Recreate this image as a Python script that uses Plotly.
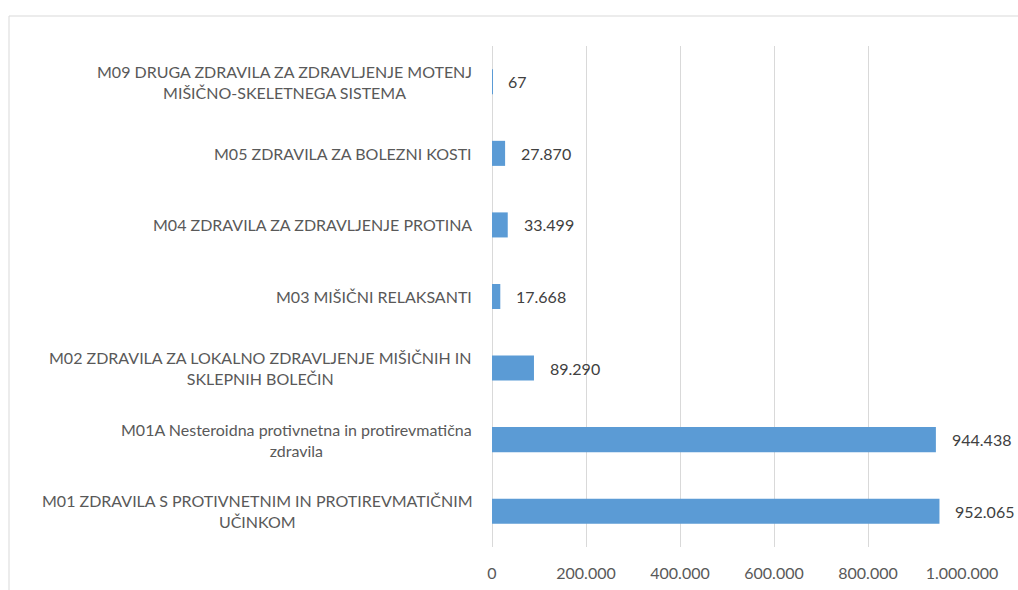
import plotly.graph_objects as go

categories = [
    "M01 ZDRAVILA S PROTIVNETNIM IN PROTIREVMATIČNIM<br>UČINKOM",
    "M01A Nesteroidna protivnetna in protirevmatična<br>zdravila",
    "M02 ZDRAVILA ZA LOKALNO ZDRAVLJENJE MIŠIČNIH IN<br>SKLEPNIH BOLEČIN",
    "M03 MIŠIČNI RELAKSANTI",
    "M04 ZDRAVILA ZA ZDRAVLJENJE PROTINA",
    "M05 ZDRAVILA ZA BOLEZNI KOSTI",
    "M09 DRUGA ZDRAVILA ZA ZDRAVLJENJE MOTENJ<br>MIŠIČNO-SKELETNEGA SISTEMA",
]
values = [952065, 944438, 89290, 17668, 33499, 27870, 67]
tick_values = [0, 200000, 400000, 600000, 800000, 1000000]

FONT = "Lato"
FS = 16
TXT = "#595959"

fig = go.Figure()
fig.add_trace(go.Bar(
    y=categories, x=values, orientation="h",
    marker=dict(color="#5B9BD5", line=dict(width=0)),
    hoverinfo="skip",
))

for c, v in zip(categories, values):
    fig.add_annotation(
        x=v, xref="x", y=c, yref="y", text=f"{v:,}".replace(",", "."),
        showarrow=False, xanchor="left", yanchor="middle", xshift=14,
        font=dict(family=FONT, size=FS, color="#404040"),
    )

for c in categories:
    fig.add_annotation(
        x=0, xref="x domain", y=c, yref="y", text=c, showarrow=False,
        xanchor="right", yanchor="middle", align="center", xshift=-18,
        font=dict(family=FONT, size=FS, color=TXT),
    )

pl, pr, pt, pb = 492, 962, 46, 547
W, H = 1018, 590
pw, ph = pr - pl, pb - pt
fig.add_shape(type="rect", xref="paper", yref="paper",
              x0=(9 - pl) / pw, x1=(W + 20 - pl) / pw,
              y0=(pb - (H + 20)) / ph, y1=(pb - 16) / ph,
              line=dict(color="#d9d9d9", width=1), fillcolor="rgba(0,0,0,0)",
              layer="below")

fig.update_layout(
    width=W, height=H,
    margin=dict(l=pl, r=W - pr, t=pt, b=H - pb, autoexpand=False),
    paper_bgcolor="white", plot_bgcolor="white",
    separators=",.",
    bargap=0.65, showlegend=False,
    font=dict(family=FONT, size=FS, color=TXT),
    xaxis=dict(range=[0, 1000000], tickvals=tick_values, tickformat=",",
               showgrid=True, gridcolor="#d9d9d9", gridwidth=1,
               zeroline=True, zerolinecolor="#d9d9d9", zerolinewidth=1,
               showline=False, ticks="", ticklabelstandoff=15, automargin=False,
               tickfont=dict(family=FONT, size=FS, color=TXT), fixedrange=True),
    yaxis=dict(showticklabels=False, showgrid=False, zeroline=False,
               showline=False, ticks="", fixedrange=True, automargin=False,
               categoryorder="array", categoryarray=categories),
)

fig.write_html("out.html", config={"displayModeBar": False},
               post_script="document.body.style.margin='0';document.body.style.overflow='hidden';")
